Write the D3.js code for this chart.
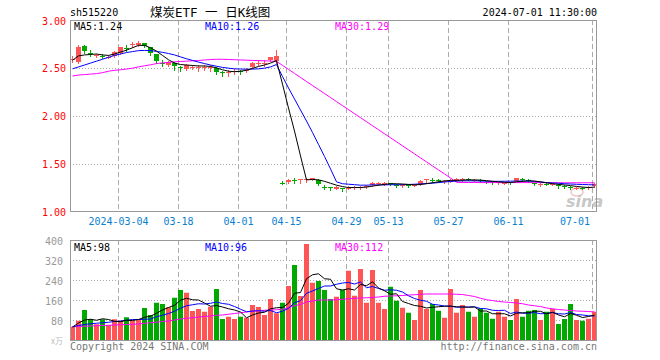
<!DOCTYPE html>
<html><head><meta charset="utf-8">
<script src="https://cdn.jsdelivr.net/npm/d3@7"></script>
<style>
body{margin:0;background:#fff}
svg{display:block}
text{font-family:"DejaVu Sans Mono","Liberation Mono",monospace;}
</style>
</head><body>
<svg id="chart" width="660" height="360"></svg>
<script>
const dates = ["02-21","02-22","02-23","02-26","02-27","02-28","02-29","03-01",
"03-04","03-05","03-06","03-07","03-08","03-11","03-12","03-13","03-14","03-15",
"03-18","03-19","03-20","03-21","03-22","03-25","03-26","03-27","03-28","03-29",
"04-01","04-02","04-03","04-08","04-09","04-10","04-11","04-12",
"04-15","04-16","04-17","04-18","04-19","04-22","04-23","04-24","04-25","04-26",
"04-29","04-30","05-06","05-07","05-08","05-09","05-10",
"05-13","05-14","05-15","05-16","05-17","05-20","05-21","05-22","05-23","05-24",
"05-27","05-28","05-29","05-30","05-31","06-03","06-04","06-05","06-06","06-07",
"06-11","06-12","06-13","06-14","06-17","06-18","06-19","06-20","06-21",
"06-24","06-25","06-26","06-27","06-28","07-01"];

const open = [2.585,2.56,2.73,2.66,2.62,2.625,2.61,2.625,2.655,2.705,2.74,2.74,2.76,2.715,2.645,2.55,2.535,2.55,2.505,2.49,
2.505,2.50,2.505,2.50,2.50,2.455,2.455,2.465,2.47,2.475,2.51,2.545,2.55,2.58,2.575,1.30,1.305,1.332,1.33,1.325,
1.33,1.33,1.26,1.252,1.24,1.245,1.245,1.25,1.255,1.262,1.272,1.29,1.29,1.295,1.28,1.275,1.28,1.275,1.285,1.325,
1.33,1.325,1.315,1.318,1.32,1.33,1.338,1.325,1.33,1.31,1.305,1.30,1.298,1.305,1.318,1.335,1.33,1.295,1.28,1.29,
1.285,1.275,1.265,1.255,1.245,1.25,1.25,1.265];
const high = [2.62,2.74,2.735,2.69,2.65,2.64,2.63,2.68,2.72,2.735,2.77,2.78,2.765,2.72,2.65,2.58,2.57,2.56,2.52,2.54,
2.53,2.53,2.53,2.53,2.51,2.47,2.48,2.49,2.48,2.50,2.56,2.58,2.58,2.615,2.69,1.315,1.335,1.35,1.342,1.345,
1.355,1.335,1.275,1.26,1.262,1.25,1.265,1.265,1.27,1.28,1.305,1.31,1.305,1.30,1.29,1.29,1.285,1.29,1.325,1.34,
1.35,1.335,1.33,1.34,1.345,1.35,1.35,1.34,1.335,1.32,1.315,1.31,1.31,1.31,1.35,1.35,1.34,1.30,1.295,1.30,
1.30,1.285,1.275,1.265,1.26,1.26,1.265,1.295];
const low = [2.56,2.555,2.66,2.62,2.61,2.60,2.60,2.615,2.65,2.68,2.72,2.73,2.72,2.63,2.55,2.52,2.52,2.48,2.47,2.48,
2.49,2.47,2.48,2.47,2.44,2.42,2.42,2.44,2.44,2.46,2.50,2.53,2.52,2.57,2.555,1.285,1.30,1.30,1.295,1.31,
1.325,1.28,1.235,1.226,1.235,1.215,1.23,1.235,1.24,1.25,1.27,1.28,1.28,1.28,1.255,1.26,1.26,1.265,1.28,1.295,
1.31,1.305,1.30,1.305,1.315,1.32,1.325,1.315,1.31,1.295,1.29,1.29,1.285,1.29,1.315,1.32,1.31,1.275,1.27,1.275,
1.275,1.25,1.245,1.235,1.235,1.235,1.24,1.26];
const close = [2.59,2.72,2.68,2.65,2.635,2.62,2.615,2.67,2.715,2.70,2.745,2.765,2.73,2.66,2.57,2.545,2.56,2.515,2.50,2.53,
2.51,2.505,2.51,2.505,2.455,2.45,2.46,2.47,2.465,2.48,2.555,2.55,2.555,2.61,2.625,1.298,1.33,1.33,1.34,1.335,
1.35,1.285,1.256,1.248,1.258,1.24,1.25,1.255,1.26,1.267,1.30,1.295,1.293,1.283,1.276,1.278,1.275,1.279,1.32,1.335,
1.325,1.318,1.32,1.322,1.335,1.338,1.332,1.33,1.315,1.305,1.30,1.305,1.302,1.30,1.345,1.33,1.325,1.285,1.285,1.285,
1.29,1.27,1.26,1.25,1.25,1.245,1.255,1.29];

const ma5 = [2.58,2.625,2.635,2.64,2.645,2.635,2.63,2.645,2.665,2.685,2.71,2.735,2.735,2.71,2.675,2.63,2.585,2.55,2.535,2.53,
2.525,2.52,2.52,2.515,2.50,2.48,2.465,2.46,2.465,2.475,2.495,2.515,2.53,2.55,2.575,2.33,2.08,1.84,1.58,1.33,
1.335,1.33,1.315,1.295,1.275,1.26,1.25,1.25,1.25,1.255,1.265,1.275,1.283,1.29,1.29,1.287,1.283,1.278,1.282,1.29,
1.30,1.31,1.32,1.325,1.325,1.328,1.33,1.33,1.328,1.322,1.315,1.31,1.305,1.303,1.31,1.315,1.32,1.318,1.31,1.30,
1.29,1.283,1.277,1.27,1.262,1.255,1.25,1.255];
const ma10 = [2.49,2.51,2.53,2.55,2.57,2.59,2.61,2.63,2.645,2.66,2.67,2.68,2.682,2.68,2.672,2.662,2.65,2.635,2.615,2.595,
2.578,2.56,2.545,2.53,2.517,2.505,2.497,2.49,2.488,2.486,2.487,2.49,2.497,2.51,2.535,2.41,2.29,2.175,2.06,1.945,
1.825,1.70,1.575,1.445,1.31,1.29,1.285,1.28,1.275,1.275,1.278,1.278,1.278,1.28,1.28,1.28,1.282,1.285,1.288,1.292,
1.296,1.302,1.308,1.313,1.318,1.32,1.32,1.32,1.318,1.316,1.315,1.315,1.316,1.317,1.318,1.318,1.318,1.315,1.308,1.302,
1.298,1.295,1.29,1.287,1.284,1.282,1.28,1.278];
const ma30 = [2.415,2.425,2.43,2.435,2.44,2.45,2.465,2.475,2.48,2.488,2.497,2.51,2.522,2.532,2.545,2.552,2.558,2.563,2.567,2.57,
2.574,2.577,2.582,2.587,2.59,2.59,2.588,2.585,2.583,2.58,2.578,2.576,2.574,2.571,2.568,2.526,2.484,2.442,2.40,2.358,
2.316,2.274,2.232,2.19,2.148,2.106,2.064,2.022,1.98,1.938,1.896,1.854,1.812,1.77,1.728,1.686,1.644,1.602,1.56,1.518,
1.476,1.434,1.392,1.35,1.305,1.303,1.303,1.303,1.302,1.302,1.302,1.302,1.302,1.302,1.302,1.302,1.302,1.302,1.302,1.301,
1.30,1.30,1.30,1.30,1.30,1.30,1.30,1.30];

const volume = [53,77,120,84,63,83,60,83,77,91,77,80,128,100,149,144,131,169,200,189,
116,124,113,133,204,84,93,84,93,89,140,132,100,164,107,149,216,300,176,384,
229,236,200,164,173,200,277,177,284,149,280,149,124,213,157,129,109,80,200,124,
144,117,89,204,109,140,113,93,127,109,85,113,93,80,164,93,117,120,80,113,
124,64,84,144,80,77,85,113];
const vma5 = [52,68,80,83,79,85,82,75,73,79,78,82,91,95,107,120,130,139,159,167,
161,160,148,135,138,132,125,120,112,89,100,108,111,125,129,130,147,187,190,245,
261,265,245,243,205,200,205,200,222,217,233,208,197,183,185,154,146,138,135,128,
131,133,135,136,133,132,131,132,116,116,105,105,105,96,107,109,109,115,115,105,
111,100,93,106,99,90,94,100];
const vma10 = [53,58,62,65,67,69,71,74,76,79,82,82,83,84,93,99,106,115,127,137,
141,145,144,147,152,146,143,134,123,113,116,117,115,118,109,115,127,149,157,187,
196,206,216,216,223,228,230,224,232,209,214,206,199,201,199,192,177,166,159,155,
143,140,136,135,131,132,132,133,126,125,119,118,119,106,112,107,107,110,105,106,
110,105,104,110,102,100,97,96];
const vma30 = [53,54,55,56,57,58,59,60,61,62,63,64,67,69,71,74,76,80,84,87,
89,92,94,96,99,100,103,106,109,112,115,117,119,120,121,123,130,137,142,152,
156,160,160,160,161,163,165,167,168,169,170,172,175,176,177,178,180,181,183,184,
184,184,184,184,183,182,178,174,167,161,158,154,152,150,148,145,140,137,134,128,
125,122,120,118,116,115,114,112];

const tickDates = ["03-04","03-18","04-01","04-15","04-29","05-13","05-27","06-11","07-01"];
const tickLabels = ["2024-03-04","03-18","04-01","04-15","04-29","05-13","05-27","06-11","07-01"];
const priceTicks = [1.0,1.5,2.0,2.5,3.0];
const volTicks = [80,160,240,320,400];
const maPriceLabels = ["MA5:1.24","MA10:1.26","MA30:1.29"];
const maVolLabels = ["MA5:98","MA10:96","MA30:112"];

const RED = "#ff5555", GREEN = "#00a800", GRID = "#aaaaaa", FRAME = "#999999";
const svg = d3.select("#chart");
svg.append("rect").attr("width",660).attr("height",360).attr("fill","#fff");

const L = 70, R = 597;
const x = d3.scaleBand().domain(dates).range([L, L + 6*dates.length]).padding(0);
const yP = d3.scaleLinear().domain([1,3]).range([211.5,20]);
const yV = d3.scaleLinear().domain([0,400]).range([340,240]);
const cx = d => x(d) + 2.5;

// header
svg.append("text").attr("x",70).attr("y",16).attr("font-size",10).attr("fill","#000").text("sh515220");
svg.append("text").attr("x",150).attr("y",17).attr("font-size",12.5)
  .style("font-family","'DejaVu Sans Mono','Noto Sans CJK SC',monospace").attr("fill","#000").text("煤炭ETF 一 日K线图");
svg.append("text").attr("x",597).attr("y",16).attr("font-size",10).attr("text-anchor","end").attr("fill","#000").text("2024-07-01 11:30:00");

function panel(top, bottom, yScale, hTicks){
  const g = svg.append("g");
  hTicks.forEach(t => {
    g.append("line").attr("x1",L).attr("x2",R).attr("y1",Math.round(yScale(t))+0.5).attr("y2",Math.round(yScale(t))+0.5)
      .attr("stroke",GRID).attr("stroke-dasharray","1,2");
  });
  tickDates.forEach(d => {
    const xx = x(d) + 0.5;
    g.append("line").attr("x1",xx).attr("x2",xx).attr("y1",top).attr("y2",bottom)
      .attr("stroke",GRID).attr("stroke-dasharray","5,3");
  });
  return g;
}
panel(20, 211.5, yP, [1.5,2.0,2.5]);
panel(240, 340, yV, [80,160,240,320]);

// watermark
const wm = svg.append("g");
wm.append("ellipse").attr("cx",577).attr("cy",192).attr("rx",6).attr("ry",4).attr("fill","none").attr("stroke","#f2c4c4").attr("stroke-width",1.5);
wm.append("text").attr("x",566).attr("y",207).attr("font-size",16).attr("font-weight","bold").attr("font-style","italic")
  .style("font-family","'DejaVu Sans',sans-serif").attr("fill","#c8c8c8").text("sina");

// clip
const defs = svg.append("defs");
defs.append("clipPath").attr("id","cp").append("rect").attr("x",L).attr("y",20).attr("width",R-L).attr("height",192);
defs.append("clipPath").attr("id","cv").append("rect").attr("x",L).attr("y",240).attr("width",R-L).attr("height",100);

// candles
const candles = svg.append("g").attr("clip-path","url(#cp)");
dates.forEach((d,i) => {
  const up = close[i] >= open[i];
  const col = up ? RED : GREEN;
  const xx = x(d);
  candles.append("line").attr("x1",xx+2.5).attr("x2",xx+2.5)
    .attr("y1",Math.round(yP(high[i]))).attr("y2",Math.round(yP(low[i]))+1).attr("stroke",col);
  const y1 = Math.round(yP(Math.max(open[i],close[i])));
  const y2 = Math.round(yP(Math.min(open[i],close[i])));
  candles.append("rect").attr("x",xx).attr("y",y1).attr("width",5).attr("height",Math.max(1,y2-y1)).attr("fill",col);
});
const lineP = d3.line().x((v,i)=>cx(dates[i])).y(v=>yP(v));
[[ma30,"#ff00ff"],[ma10,"#0000ff"],[ma5,"#000000"]].forEach(([s,c]) => {
  candles.append("path").attr("d",lineP(s)).attr("fill","none").attr("stroke",c).attr("stroke-width",1);
});

// volume bars
const vg = svg.append("g").attr("clip-path","url(#cv)");
dates.forEach((d,i) => {
  const up = close[i] >= open[i];
  vg.append("rect").attr("x",x(d)).attr("y",yV(volume[i])).attr("width",5).attr("height",340-yV(volume[i]))
    .attr("fill", up ? RED : GREEN);
});
const lineV = d3.line().x((v,i)=>cx(dates[i])).y(v=>yV(v));
[[vma30,"#ff00ff"],[vma10,"#0000ff"],[vma5,"#000000"]].forEach(([s,c]) => {
  vg.append("path").attr("d",lineV(s)).attr("fill","none").attr("stroke",c).attr("stroke-width",1);
});

// frames
svg.append("rect").attr("x",L+0.5).attr("y",20.5).attr("width",R-L-1).attr("height",191).attr("fill","none").attr("stroke",FRAME);
svg.append("rect").attr("x",L+0.5).attr("y",240.5).attr("width",R-L-1).attr("height",100).attr("fill","none").attr("stroke",FRAME);

// y axes
const axP = d3.axisLeft(yP).tickValues(priceTicks).tickFormat(d3.format(".2f")).tickSize(0).tickPadding(4);
const gp = svg.append("g").attr("transform",`translate(${L},0)`).call(axP);
gp.select(".domain").remove();
gp.selectAll("text").attr("fill","#ff0000").attr("font-size",10).style("font-family","'DejaVu Sans Mono',monospace").attr("dy","0.4em");

const axV = d3.axisLeft(yV).tickValues(volTicks).tickSize(0).tickPadding(7);
const gv = svg.append("g").attr("transform",`translate(${L},0)`).call(axV);
gv.select(".domain").remove();
gv.selectAll("text").attr("fill","#999999").attr("font-size",10).style("font-family","'DejaVu Sans Mono',monospace").attr("dy","0.4em");
svg.append("text").attr("x",63).attr("y",344).attr("font-size",8).attr("text-anchor","end").attr("fill","#bbbbbb")
  .style("font-family","'Noto Sans CJK SC',sans-serif").text("x万");

// x labels
tickDates.forEach((d,i) => {
  let xx = x(d) + 0.5;
  const t = svg.append("text").attr("y",225).attr("font-size",10).attr("fill","#0a7fd0").text(tickLabels[i]);
  if (i === tickDates.length-1) t.attr("x",590).attr("text-anchor","end");
  else t.attr("x",xx).attr("text-anchor","middle");
});

// legends
const legX = [74,205,335], legC = ["#000000","#0000ff","#ff00ff"];
maPriceLabels.forEach((s,i)=> svg.append("text").attr("x",legX[i]).attr("y",30).attr("font-size",10).attr("fill",legC[i]).text(s));
maVolLabels.forEach((s,i)=> svg.append("text").attr("x",legX[i]).attr("y",251).attr("font-size",10).attr("fill",legC[i]).text(s));

// footer
svg.append("text").attr("x",70).attr("y",350).attr("font-size",10).attr("fill","#777").text("Copyright 2024 SINA.COM");
svg.append("text").attr("x",597).attr("y",350).attr("font-size",10).attr("text-anchor","end").attr("fill","#777").text("http://finance.sina.com.cn");
</script>
</body></html>
